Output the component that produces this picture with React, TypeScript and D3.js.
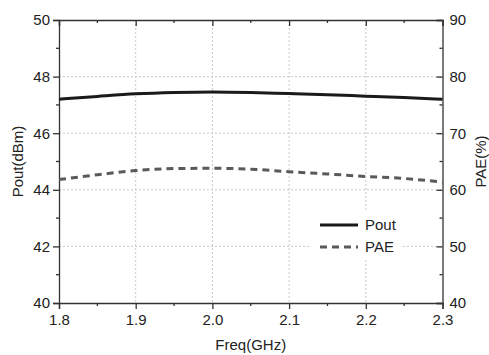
import { useEffect, useRef } from 'react';
import * as d3 from 'd3';

const freq = [1.8, 1.85, 1.9, 1.95, 2.0, 2.05, 2.1, 2.15, 2.2, 2.25, 2.3];
const pout = [47.2, 47.3, 47.39, 47.44, 47.46, 47.44, 47.4, 47.36, 47.31, 47.26, 47.2];
const pae = [61.8, 62.65, 63.4, 63.75, 63.8, 63.65, 63.2, 62.8, 62.35, 62.0, 61.35];

const xTicks = [1.8, 1.9, 2.0, 2.1, 2.2, 2.3];
const leftTicks = [40, 42, 44, 46, 48, 50];
const rightTicks = [40, 50, 60, 70, 80, 90];
const seriesNames = ['Pout', 'PAE'];

const W = 489;
const H = 355;
const font = 'Liberation Sans, Arial, sans-serif';

export default function App() {
  const svgRef = useRef<SVGSVGElement | null>(null);

  useEffect(() => {
    if (!svgRef.current) return;
    const svg = d3.select(svgRef.current);
    svg.selectAll('*').remove();

    const margin = { top: 20, right: 46.5, bottom: 52, left: 59 };
    const x = d3.scaleLinear().domain([1.8, 2.3]).range([margin.left, W - margin.right]);
    const yL = d3.scaleLinear().domain([40, 50]).range([H - margin.bottom, margin.top]);
    const yR = d3.scaleLinear().domain([40, 90]).range([H - margin.bottom, margin.top]);

    const [x0, x1] = x.range();
    const [yb, yt] = yL.range();

    // grid
    const grid = svg.append('g');
    xTicks.slice(1, -1).forEach(t => {
      grid.append('line')
        .attr('x1', x(t)).attr('x2', x(t)).attr('y1', yt).attr('y2', yb)
        .attr('stroke', '#c8c8c8').attr('stroke-width', 1).attr('stroke-dasharray', '2,2');
    });
    leftTicks.slice(1, -1).forEach(t => {
      grid.append('line')
        .attr('x1', x0).attr('x2', x1).attr('y1', yL(t)).attr('y2', yL(t))
        .attr('stroke', '#c8c8c8').attr('stroke-width', 1).attr('stroke-dasharray', '2,2');
    });

    const axisColor = '#333';
    const styleAxis = (g: d3.Selection<SVGGElement, unknown, null, undefined>) => {
      g.select('.domain').attr('stroke', axisColor).attr('stroke-width', 1.3);
      g.selectAll('.tick line').attr('stroke', axisColor).attr('stroke-width', 1.3);
      g.selectAll('.tick text').attr('font-family', font).attr('font-size', 15).attr('fill', '#222');
      g.selectAll('.minor').attr('stroke', axisColor).attr('stroke-width', 1.3);
    };

    const minorX = d3.range(1.85, 2.3, 0.1);
    const minorL = d3.range(41, 50, 2);
    const minorR = d3.range(45, 90, 10);

    // bottom
    const gb = svg.append('g').attr('transform', `translate(0,${yb})`);
    gb.call(d3.axisBottom(x).tickValues(xTicks).tickFormat(d3.format('.1f')).tickSizeOuter(0).tickSize(6).tickPadding(5));
    gb.selectAll('.minor').data(minorX).join('line').attr('class', 'minor')
      .attr('x1', d => x(d)).attr('x2', d => x(d)).attr('y1', 0).attr('y2', 3);
    styleAxis(gb);

    // top
    const gt = svg.append('g').attr('transform', `translate(0,${yt})`);
    gt.call(d3.axisTop(x).tickValues(xTicks).tickSizeOuter(0).tickSize(-6).tickFormat(() => ''));
    gt.selectAll('.minor').data(minorX).join('line').attr('class', 'minor')
      .attr('x1', d => x(d)).attr('x2', d => x(d)).attr('y1', 0).attr('y2', 3);
    styleAxis(gt);

    // left
    const gl = svg.append('g').attr('transform', `translate(${x0},0)`);
    gl.call(d3.axisLeft(yL).tickValues(leftTicks).tickSizeOuter(0).tickSize(6).tickPadding(3));
    gl.selectAll('.minor').data(minorL).join('line').attr('class', 'minor')
      .attr('y1', d => yL(d)).attr('y2', d => yL(d)).attr('x1', 0).attr('x2', -3);
    styleAxis(gl);

    // right
    const gr = svg.append('g').attr('transform', `translate(${x1},0)`);
    gr.call(d3.axisRight(yR).tickValues(rightTicks).tickSizeOuter(0).tickSize(-6).tickPadding(7));
    gr.selectAll('.minor').data(minorR).join('line').attr('class', 'minor')
      .attr('y1', d => yR(d)).attr('y2', d => yR(d)).attr('x1', 0).attr('x2', -3);
    styleAxis(gr);

    // series
    const lineL = d3.line<number>().x((_, i) => x(freq[i])).y(d => yL(d)).curve(d3.curveMonotoneX);
    const lineR = d3.line<number>().x((_, i) => x(freq[i])).y(d => yR(d)).curve(d3.curveMonotoneX);

    svg.append('path').datum(pout).attr('d', lineL).attr('fill', 'none')
      .attr('stroke', '#1a1a1a').attr('stroke-width', 3);
    svg.append('path').datum(pae).attr('d', lineR).attr('fill', 'none')
      .attr('stroke', '#5a5a5a').attr('stroke-width', 3).attr('stroke-dasharray', '7,5');

    // legend
    const lg = svg.append('g').attr('transform', 'translate(310,210)');
    lg.append('rect').attr('width', 93).attr('height', 48).attr('fill', '#fff');
    seriesNames.forEach((name, i) => {
      const yy = 15 + i * 22;
      lg.append('line').attr('x1', 10).attr('x2', 48).attr('y1', yy).attr('y2', yy)
        .attr('stroke', i === 0 ? '#1a1a1a' : '#5a5a5a').attr('stroke-width', 3)
        .attr('stroke-dasharray', i === 0 ? null : '7,5');
      lg.append('text').attr('x', 55).attr('y', yy + 5).attr('font-family', font)
        .attr('font-size', 15).attr('fill', '#222').text(name);
    });

    // axis titles
    svg.append('text').attr('x', (x0 + x1) / 2).attr('y', 350).attr('text-anchor', 'middle')
      .attr('font-family', font).attr('font-size', 15).attr('fill', '#222').text('Freq(GHz)');
    svg.append('text').attr('transform', `translate(23,${(yt + yb) / 2}) rotate(-90)`)
      .attr('text-anchor', 'middle').attr('font-family', font).attr('font-size', 15).attr('fill', '#222')
      .text('Pout(dBm)');
    svg.append('text').attr('transform', `translate(486,${(yt + yb) / 2}) rotate(-90)`)
      .attr('text-anchor', 'middle').attr('font-family', font).attr('font-size', 15).attr('fill', '#222')
      .text('PAE(%)');
  }, []);

  return (
    <svg ref={svgRef} width={W} height={H}
      style={{ position: 'absolute', left: 0, top: 0, background: '#fff' }} />
  );
}
